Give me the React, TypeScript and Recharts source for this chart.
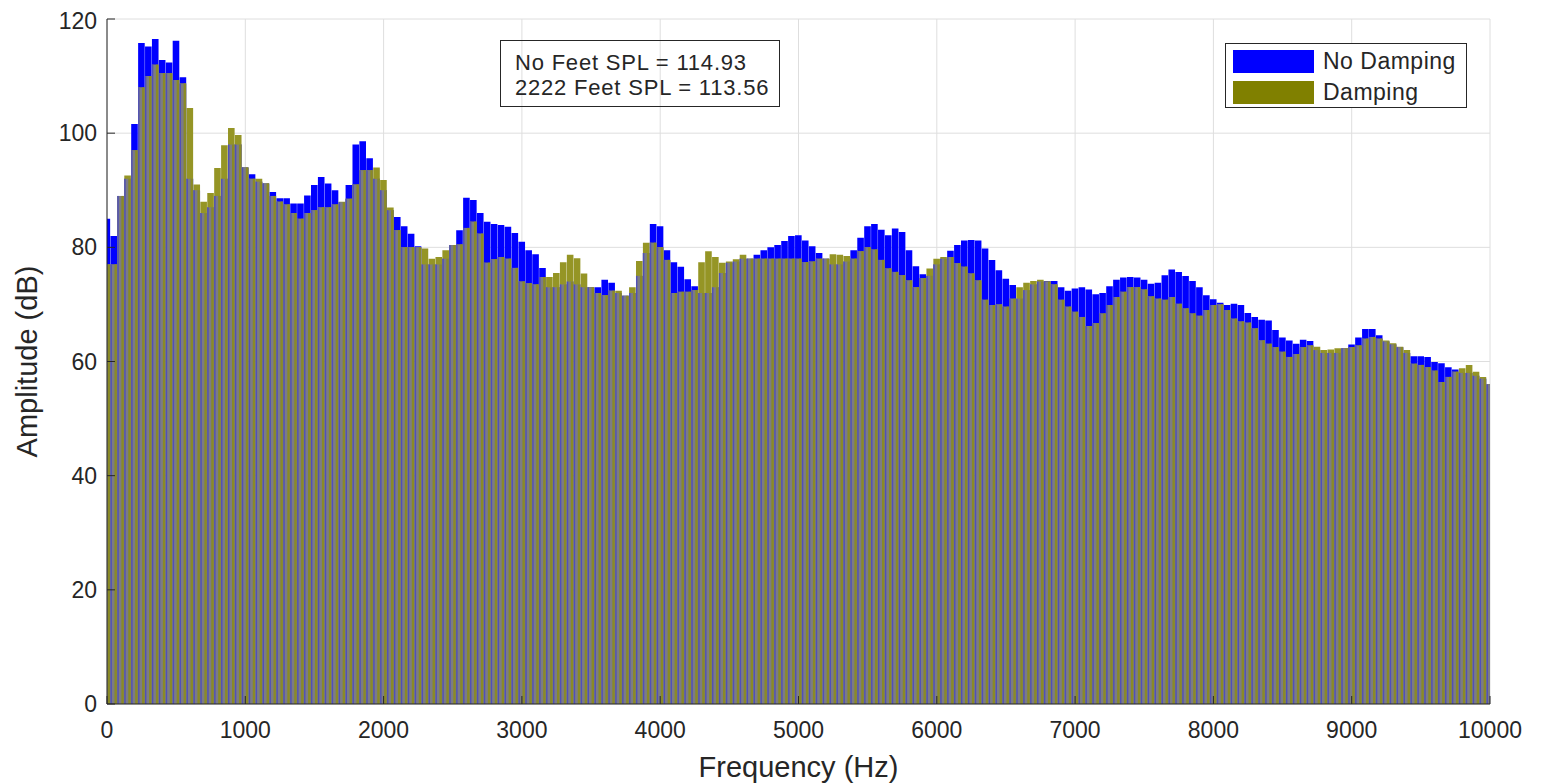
import { Bar, BarChart, CartesianGrid, XAxis, YAxis } from "recharts"

// frequency bins, 50 Hz apart
const FREQ_STEP = 50
const FREQS = Array.from({ length: 201 }, (_, i) => i * FREQ_STEP)

const NO_DAMPING = [
    85, 82, 89, 92, 101.6, 115.8, 115.2, 116.5, 112.8, 112.4,
    116.2, 109.8, 92, 90, 86, 87, 89, 92, 98, 98,
    94, 92.8, 91.5, 91.2, 89.7, 88.6, 88.6, 87.7, 87.7, 89.1,
    90.9, 92.3, 91.2, 90, 87.9, 90.9, 98, 98.6, 95.6, 92,
    90, 86.5, 85.3, 83.7, 82.4, 80.2, 77, 77, 77, 78,
    80.4, 83, 88.7, 88.3, 86, 84.5, 84.1, 83.9, 83.6, 82.5,
    81, 79.5, 78.8, 76.4, 73, 73, 73.5, 74, 73.5, 73,
    73, 73, 74.3, 73.8, 72, 71.5, 72, 75, 79, 84.1,
    83.7, 79.5, 77.4, 76.6, 74.4, 73.2, 72, 72, 73, 75.5,
    77.3, 77.5, 78, 78, 78.7, 79.5, 80, 80.4, 81.1, 82,
    82.1, 81.2, 80.2, 79, 78, 77, 77, 77.5, 79.5, 81.7,
    83.7, 84.1, 83.1, 82.1, 83.3, 82.7, 79.5, 76.7, 75.3, 75,
    77, 78, 79.4, 80.4, 81.2, 81.3, 81.2, 79.8, 77.8, 76,
    74.5, 73.4, 71, 72.5, 73.5, 74, 74.1, 74.1, 73, 72.4,
    72.8, 73, 72.6, 71.8, 72, 73.2, 74.3, 74.7, 74.8, 74.7,
    74.3, 73.6, 73.8, 75.1, 76.1, 75.7, 75, 74.1, 73, 71.6,
    70.9, 70.3, 69.9, 70.1, 69.9, 68.5, 67.8, 67.3, 67.2, 65.5,
    64.2, 63.7, 63.1, 63.8, 63.6, 62, 61.5, 61.5, 61.5, 62.3,
    63, 64.2, 65.7, 65.7, 64.6, 63.5, 63, 62.5, 61.5, 60.9,
    60.9, 60.8, 59.9, 59.7, 59, 58.6, 58, 58, 57.5, 57,
    56,
]

const DAMPING = [
    77, 77, 89, 92.6, 97, 108, 110, 112, 110.5, 110.5,
    109.3, 108.7, 104.4, 91, 88, 89.5, 93.9, 97.9, 100.9, 99.7,
    94, 92, 92, 91.2, 89, 88, 87.5, 86, 85, 86,
    86.5, 87, 87, 87.5, 88, 88.5, 91, 93.5, 93.5, 94,
    91.8, 87, 83, 80, 80, 80, 79.8, 78, 78.3, 79.5,
    80.4, 80.5, 83.4, 84.5, 82.4, 77.3, 77.9, 78.3, 78, 76.4,
    74, 73.7, 73.5, 74.8, 74.8, 75.5, 77.4, 78.7, 78.1, 75.4,
    73, 72, 71.6, 72.4, 72.4, 71.5, 73, 77.6, 80.8, 80.8,
    80, 77.8, 72, 72.2, 72.2, 72.5, 77.4, 79.3, 78.3, 77.3,
    77.5, 77.9, 78.7, 78, 78, 78, 78, 78, 78, 78,
    78, 77.4, 77.5, 78, 78, 78.8, 78.7, 78.5, 78, 79.3,
    80, 79.6, 77.8, 76.3, 75.7, 75.1, 74.2, 73, 74.6, 76.3,
    78, 78.3, 78.3, 77.2, 76.6, 75.4, 74.2, 70.8, 69.9, 70,
    69.6, 71, 73, 73.8, 74.1, 74.3, 74, 73.5, 70.8, 69.6,
    68.7, 67.8, 66.2, 66.7, 68.4, 69.9, 71.3, 72.2, 73, 73,
    72.6, 71.4, 71, 70.8, 71.3, 70.1, 69.3, 68.4, 68, 69,
    69.9, 70, 69, 67.5, 67, 66.8, 65.8, 63.7, 63.1, 62.5,
    61.7, 60.8, 61.3, 62.5, 62.8, 62.6, 62, 62.1, 62.3, 62.3,
    62.5, 62.8, 64, 64.3, 64, 63.7, 63.2, 62.6, 62, 59.6,
    59.4, 59, 58.4, 56.4, 57.3, 58.2, 58.8, 59.4, 58.2, 57.3,
    56,
]

const X_TICKS = [0, 1000, 2000, 3000, 4000, 5000, 6000, 7000, 8000, 9000, 10000]
const Y_TICKS = [0, 20, 40, 60, 80, 100, 120]
const SERIES_NAMES = ["No Damping", "Damping"]
const SPL_LINES = ["No Feet SPL = 114.93", "2222 Feet SPL = 113.56"]

const BLUE = "#0000ff"
const OLIVE = "#808000"
const OLIVE_BAR = "#959525"
const INK = "#262626"
const FONT = "'Liberation Sans', Arial, sans-serif"
const BAR_W = 6.6

const data = FREQS.map((freq, i) => ({
    freq,
    noDamping: NO_DAMPING[i],
    damping: DAMPING[i],
    overlap: Math.min(NO_DAMPING[i], DAMPING[i]),
}))

// where both bars overlap MATLAB blends them into a striped gray
function OverlapShape(props: any) {
    const { x, y, width, height } = props
    if (!height || height <= 0) return <g />
    return (
        <g>
            <rect x={x} y={y} width={width} height={height} fill="#7c7c84" />
            <rect x={x} y={y} width={1.4} height={height} fill="#5050b8" />
            <rect x={x + width - 2.6} y={y} width={2.4} height={height} fill="#8a8a26" />
        </g>
    )
}

const emptyTick = () => <g />
const tickStyle = { fontSize: 23, fill: INK, fontFamily: FONT }

export default function App() {
    return (
        <div style={{ position: "relative", width: 1530, height: 776, fontFamily: FONT, background: "#fff" }}>
            <BarChart
                width={1530}
                height={776}
                data={data}
                margin={{ top: 11, right: 48, bottom: 0, left: 0 }}
                barSize={BAR_W}
                barGap={-BAR_W}
            >
                <CartesianGrid stroke="#dedede" strokeWidth={1} />
                <Bar dataKey="noDamping" name={SERIES_NAMES[0]} fill={BLUE} isAnimationActive={false} />
                <Bar dataKey="damping" name={SERIES_NAMES[1]} fill={OLIVE_BAR} isAnimationActive={false} />
                <Bar dataKey="overlap" legendType="none" shape={OverlapShape} isAnimationActive={false} />
                <XAxis
                    dataKey="freq"
                    type="number"
                    domain={[0, 10000]}
                    ticks={X_TICKS}
                    allowDataOverflow
                    height={80}
                    tickSize={-8}
                    tickMargin={26}
                    tick={tickStyle}
                    stroke={INK}
                    label={{ value: "Frequency (Hz)", position: "insideBottom", offset: 7, fontSize: 29, fill: INK, fontFamily: FONT }}
                />
                <XAxis
                    xAxisId="top"
                    orientation="top"
                    dataKey="freq"
                    type="number"
                    domain={[0, 10000]}
                    ticks={X_TICKS}
                    height={0}
                    tickSize={-8}
                    tick={emptyTick}
                    stroke={INK}
                />
                <YAxis
                    type="number"
                    domain={[0, 120]}
                    ticks={Y_TICKS}
                    width={99}
                    tickSize={-8}
                    tickMargin={18}
                    tick={tickStyle}
                    stroke={INK}
                    label={{ value: "Amplitude (dB)", angle: -90, position: "insideLeft", offset: 19, fontSize: 29, fill: INK, fontFamily: FONT, style: { textAnchor: "middle" } }}
                />
                <YAxis
                    yAxisId="right"
                    orientation="right"
                    type="number"
                    domain={[0, 120]}
                    ticks={Y_TICKS}
                    width={0}
                    tickSize={-8}
                    tick={emptyTick}
                    stroke={INK}
                />
            </BarChart>

            <div
                style={{
                    position: "absolute",
                    left: 492,
                    top: 32,
                    width: 280,
                    height: 67,
                    border: `1px solid ${INK}`,
                    color: INK,
                    fontSize: 22,
                    letterSpacing: 0.8,
                    lineHeight: "25px",
                    padding: "9px 0 0 14px",
                    boxSizing: "border-box",
                    whiteSpace: "nowrap",
                }}
            >
                {SPL_LINES.map((line) => (
                    <div key={line}>{line}</div>
                ))}
            </div>

            <div
                style={{
                    position: "absolute",
                    left: 1217,
                    top: 35,
                    width: 242,
                    height: 65,
                    border: `1px solid ${INK}`,
                    background: "#fff",
                    boxSizing: "border-box",
                }}
            >
                {SERIES_NAMES.map((name, i) => (
                    <div key={name} style={{ position: "absolute", left: 7, top: 4 + i * 31, display: "flex", alignItems: "center" }}>
                        <div style={{ width: 81, height: 23, background: i === 0 ? BLUE : OLIVE }} />
                        <span style={{ marginLeft: 9, fontSize: 23, letterSpacing: 0.5, color: INK, whiteSpace: "nowrap" }}>{name}</span>
                    </div>
                ))}
            </div>
        </div>
    )
}
